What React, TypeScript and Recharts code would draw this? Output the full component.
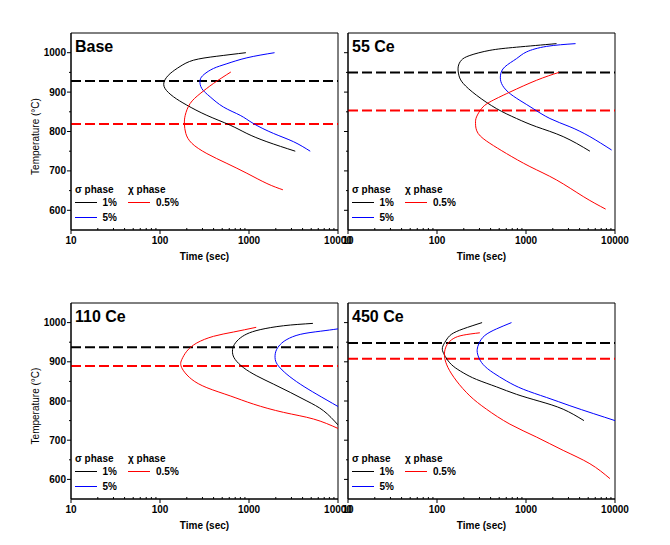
import React from 'react';
import { LineChart, Line, XAxis, YAxis, ReferenceLine, ReferenceArea } from 'recharts';

const FONT = "Arial, 'Liberation Sans', sans-serif";

// ---- axis ticks ----
const xMajorTicks = [10, 100, 1000, 10000];
const xTickLabels = ['10', '100', '1000', '10000'];
const xMinorTicks = [20, 30, 40, 50, 60, 70, 80, 90, 200, 300, 400, 500, 600, 700, 800, 900, 2000, 3000, 4000, 5000, 6000, 7000, 8000, 9000];
const yMajorTicks = [600, 700, 800, 900, 1000];
const yMinorTicks = [650, 750, 850, 950];
const xDomain = [10, 10000];
const yDomain = [550, 1050];

// ---- labels ----
const xAxisTitle = 'Time (sec)';
const yAxisTitle = 'Temperature (°C)';
const sigmaHeader = 'σ phase';
const chiHeader = 'χ phase';
const sigma1Label = '1%';
const sigma5Label = '5%';
const chi05Label = '0.5%';
const panelTitles = ['Base', '55 Ce', '110 Ce', '450 Ce'];

type Pt = { t: number; T: number };

// ---- Base ----
const baseSigma1: Pt[] = [
  { t: 922, T: 1000 }, { t: 435, T: 991 }, { t: 238, T: 981 }, { t: 168, T: 965 }, { t: 130, T: 947 },
  { t: 112, T: 928 }, { t: 114, T: 909 }, { t: 142, T: 888 }, { t: 200, T: 867 }, { t: 336, T: 841 },
  { t: 615, T: 816 }, { t: 946, T: 795 }, { t: 1589, T: 774 }, { t: 3311, T: 750 },
];
const baseSigma5: Pt[] = [
  { t: 1937, T: 1000 }, { t: 946, T: 987 }, { t: 564, T: 972 }, { t: 399, T: 960 }, { t: 313, T: 945 },
  { t: 282, T: 930 }, { t: 295, T: 909 }, { t: 366, T: 888 }, { t: 517, T: 862 }, { t: 797, T: 841 },
  { t: 1125, T: 820 }, { t: 1888, T: 795 }, { t: 3170, T: 774 }, { t: 4875, T: 750 },
];
const baseChi05: Pt[] = [
  { t: 625, T: 951 }, { t: 399, T: 922 }, { t: 282, T: 896 }, { t: 218, T: 871 }, { t: 192, T: 841 },
  { t: 188, T: 819 }, { t: 195, T: 795 }, { t: 228, T: 770 }, { t: 336, T: 744 }, { t: 564, T: 719 },
  { t: 946, T: 694 }, { t: 1589, T: 668 }, { t: 2404, T: 652 },
];
const baseDashes = [928, 819];

// ---- 55 Ce ----
const ce55Sigma1: Pt[] = [
  { t: 2203, T: 1023 }, { t: 783, T: 1014 }, { t: 393, T: 1006 }, { t: 234, T: 993 }, { t: 188, T: 981 },
  { t: 173, T: 964 }, { t: 176, T: 943 }, { t: 197, T: 922 }, { t: 278, T: 892 }, { t: 467, T: 858 },
  { t: 783, T: 833 }, { t: 1314, T: 812 }, { t: 2618, T: 787 }, { t: 5224, T: 750 },
];
const ce55Sigma5: Pt[] = [
  { t: 3606, T: 1023 }, { t: 1702, T: 1016 }, { t: 1014, T: 1002 }, { t: 783, T: 985 }, { t: 578, T: 964 },
  { t: 517, T: 943 }, { t: 531, T: 922 }, { t: 631, T: 900 }, { t: 853, T: 879 }, { t: 1205, T: 858 },
  { t: 1855, T: 833 }, { t: 3114, T: 812 }, { t: 5224, T: 787 }, { t: 9163, T: 753 },
];
const ce55Chi05: Pt[] = [
  { t: 2344, T: 950 }, { t: 1313, T: 930 }, { t: 659, T: 900 }, { t: 393, T: 875 }, { t: 316, T: 858 },
  { t: 278, T: 837 }, { t: 271, T: 820 }, { t: 290, T: 795 }, { t: 393, T: 770 }, { t: 604, T: 744 },
  { t: 1106, T: 711 }, { t: 2203, T: 677 }, { t: 4393, T: 635 }, { t: 7852, T: 603 },
];
const ce55Dashes = [950, 853];

// ---- 110 Ce ----
const ce110Sigma1: Pt[] = [
  { t: 5224, T: 998 }, { t: 2444, T: 992 }, { t: 1336, T: 982 }, { t: 946, T: 971 }, { t: 763, T: 957 },
  { t: 670, T: 940 }, { t: 653, T: 923 }, { t: 699, T: 906 }, { t: 868, T: 885 }, { t: 1225, T: 864 },
  { t: 1888, T: 843 }, { t: 2906, T: 822 }, { t: 4474, T: 800 }, { t: 6887, T: 775 }, { t: 10000, T: 739 },
];
const ce110Sigma5: Pt[] = [
  { t: 10000, T: 984 }, { t: 6325, T: 978 }, { t: 3767, T: 970 }, { t: 2667, T: 957 }, { t: 2244, T: 944 },
  { t: 2005, T: 927 }, { t: 1972, T: 906 }, { t: 2149, T: 889 }, { t: 2667, T: 868 }, { t: 3767, T: 843 },
  { t: 5794, T: 817 }, { t: 10000, T: 786 },
];
const ce110Chi05: Pt[] = [
  { t: 1205, T: 988 }, { t: 670, T: 976 }, { t: 399, T: 965 }, { t: 259, T: 948 }, { t: 200, T: 927 },
  { t: 176, T: 906 }, { t: 171, T: 893 }, { t: 184, T: 877 }, { t: 228, T: 855 }, { t: 336, T: 834 },
  { t: 615, T: 813 }, { t: 1125, T: 792 }, { t: 2444, T: 771 }, { t: 5318, T: 754 }, { t: 10000, T: 730 },
];
const ce110Dashes = [937, 889];

// ---- 450 Ce ----
const ce450Sigma1: Pt[] = [
  { t: 321, T: 1000 }, { t: 197, T: 984 }, { t: 145, T: 970 }, { t: 126, T: 954 }, { t: 115, T: 936 },
  { t: 119, T: 921 }, { t: 130, T: 906 }, { t: 152, T: 889 }, { t: 197, T: 872 }, { t: 278, T: 855 },
  { t: 467, T: 836 }, { t: 783, T: 817 }, { t: 1433, T: 799 }, { t: 2618, T: 779 }, { t: 4478, T: 750 },
];
const ce450Sigma5: Pt[] = [
  { t: 687, T: 1000 }, { t: 467, T: 984 }, { t: 344, T: 967 }, { t: 298, T: 948 }, { t: 283, T: 932 },
  { t: 290, T: 915 }, { t: 330, T: 893 }, { t: 428, T: 872 }, { t: 604, T: 851 }, { t: 931, T: 830 },
  { t: 1702, T: 809 }, { t: 3114, T: 788 }, { t: 5701, T: 768 }, { t: 10000, T: 750 },
];
const ce450Chi05: Pt[] = [
  { t: 303, T: 974 }, { t: 197, T: 968 }, { t: 152, T: 959 }, { t: 130, T: 944 }, { t: 122, T: 927 },
  { t: 122, T: 910 }, { t: 133, T: 885 }, { t: 166, T: 851 }, { t: 234, T: 813 }, { t: 360, T: 779 },
  { t: 659, T: 741 }, { t: 1313, T: 708 }, { t: 2618, T: 674 }, { t: 5224, T: 640 }, { t: 8770, T: 602 },
];
const ce450Dashes = [948, 908];

const COLORS = { sigma1: '#000000', sigma5: '#0000ff', chi: '#ff0000' };

const CHART_W = 362;
const PLOT_LEFT = 71;
const PLOT_RIGHT = 338;
const PLOT_TOP = 33;
const Y_AXIS_W = 40;
const X_AXIS_H = 30;

const XTick = (props: any) => {
  const { x, y, payload } = props;
  const v = payload.value;
  const idx = xMajorTicks.indexOf(v);
  if (idx >= 0) {
    return (
      <g>
        <line x1={x} y1={y} x2={x} y2={y + 4} stroke="#000" strokeWidth={1} />
        <text x={x} y={y + 13.5} textAnchor="middle" fontFamily={FONT} fontSize={10} fontWeight="bold" fill="#000">
          {xTickLabels[idx]}
        </text>
      </g>
    );
  }
  return <line x1={x} y1={y} x2={x} y2={y - 2} stroke="#000" strokeWidth={1} />;
};

const makeYTick = (showLabels: boolean) => (props: any) => {
  const { x, y, payload } = props;
  const v = payload.value;
  if (yMajorTicks.indexOf(v) >= 0) {
    return (
      <g>
        <line x1={x - 4} y1={y} x2={x} y2={y} stroke="#000" strokeWidth={1} />
        {showLabels && (
          <text x={x - 5} y={y + 3.5} textAnchor="end" fontFamily={FONT} fontSize={10} fontWeight="bold" fill="#000">
            {String(v)}
          </text>
        )}
      </g>
    );
  }
  return <line x1={x - 2} y1={y} x2={x} y2={y} stroke="#000" strokeWidth={1} />;
};

type PanelProps = {
  left: number;
  top: number;
  plotH: number;
  title: string;
  sigma1: Pt[];
  sigma5: Pt[];
  chi: Pt[];
  dashes: number[];
  showYLabels: boolean;
};

const Panel = ({ left, top, plotH, title, sigma1, sigma5, chi, dashes, showYLabels }: PanelProps) => {
  const W = CHART_W;
  const H = PLOT_TOP + plotH + 40;
  const plotBottom = PLOT_TOP + plotH;
  const lg = PLOT_LEFT + 4;
  const row1 = Math.round(plotBottom - 28) + 0.5;
  const row2 = Math.round(plotBottom - 13.5) + 0.5;
  return (
    <div style={{ position: 'absolute', left, top, width: W, height: H }}>
      <LineChart
        width={W}
        height={H}
        margin={{ top: PLOT_TOP, right: W - PLOT_RIGHT, left: PLOT_LEFT - Y_AXIS_W, bottom: 40 - X_AXIS_H }}
      >
        <XAxis
          dataKey="t"
          type="number"
          scale="log"
          domain={xDomain}
          allowDataOverflow
          ticks={[...xMajorTicks, ...xMinorTicks]}
          interval={0}
          tick={<XTick />}
          tickLine={false}
          tickSize={0}
          tickMargin={0}
          height={X_AXIS_H}
          axisLine={{ stroke: '#000' }}
        />
        <YAxis
          dataKey="T"
          type="number"
          domain={yDomain}
          allowDataOverflow
          ticks={[...yMajorTicks, ...yMinorTicks]}
          interval={0}
          tick={makeYTick(showYLabels)}
          tickLine={false}
          tickSize={0}
          tickMargin={0}
          width={Y_AXIS_W}
          axisLine={{ stroke: '#000' }}
        />
        <ReferenceArea x1={xDomain[0]} x2={xDomain[1]} y1={yDomain[0]} y2={yDomain[1]} fill="none" fillOpacity={0} stroke="#000" strokeWidth={1} />
        <ReferenceLine y={dashes[0]} stroke="#000" strokeWidth={2} strokeDasharray="10 4" />
        <ReferenceLine y={dashes[1]} stroke="#ff0000" strokeWidth={2} strokeDasharray="10 4" />
        <Line data={sigma1} dataKey="T" type="natural" stroke={COLORS.sigma1} strokeWidth={1} dot={false} activeDot={false} isAnimationActive={false} />
        <Line data={sigma5} dataKey="T" type="natural" stroke={COLORS.sigma5} strokeWidth={1} dot={false} activeDot={false} isAnimationActive={false} />
        <Line data={chi} dataKey="T" type="natural" stroke={COLORS.chi} strokeWidth={1} dot={false} activeDot={false} isAnimationActive={false} />
      </LineChart>
      <svg
        width={W}
        height={H}
        style={{ position: 'absolute', left: 0, top: 0, pointerEvents: 'none', overflow: 'visible' }}
        fontFamily={FONT}
      >
        <text x={lg} y={PLOT_TOP + 19} fontSize={16} fontWeight="bold" fill="#000">{title}</text>
        {/* legend */}
        <text x={lg} y={plotBottom - 37.5} fontSize={10} fontWeight="bold" fill="#000">{sigmaHeader}</text>
        <text x={lg + 53} y={plotBottom - 37.5} fontSize={10} fontWeight="bold" fill="#000">{chiHeader}</text>
        <line x1={lg} x2={lg + 22} y1={row1} y2={row1} stroke={COLORS.sigma1} strokeWidth={1} />
        <text x={lg + 42} y={row1 + 3.5} textAnchor="end" fontSize={10} fontWeight="bold" fill="#000">{sigma1Label}</text>
        <line x1={lg + 53} x2={lg + 75} y1={row1} y2={row1} stroke={COLORS.chi} strokeWidth={1} />
        <text x={lg + 81} y={row1 + 3.5} fontSize={10} fontWeight="bold" fill="#000">{chi05Label}</text>
        <line x1={lg} x2={lg + 22} y1={row2} y2={row2} stroke={COLORS.sigma5} strokeWidth={1} />
        <text x={lg + 42} y={row2 + 3.5} textAnchor="end" fontSize={10} fontWeight="bold" fill="#000">{sigma5Label}</text>
        {/* axis titles */}
        <text x={(PLOT_LEFT + PLOT_RIGHT) / 2} y={plotBottom + 30} textAnchor="middle" fontSize={10} fontWeight="bold" fill="#000">{xAxisTitle}</text>
        {showYLabels && (
          <text
            x={38.5}
            y={PLOT_TOP + plotH / 2 + 5}
            textAnchor="middle"
            fontSize={10}
            fill="#000"
            transform={`rotate(-90 38.5 ${PLOT_TOP + plotH / 2 + 5})`}
          >
            {yAxisTitle}
          </text>
        )}
      </svg>
    </div>
  );
};

export default function App() {
  return (
    <div style={{ position: 'absolute', left: 0, top: 0, width: 670, height: 545, background: '#fff', overflow: 'hidden' }}>
      <Panel left={0} top={0} plotH={197} title={panelTitles[0]} sigma1={baseSigma1} sigma5={baseSigma5} chi={baseChi05} dashes={baseDashes} showYLabels />
      <Panel left={277} top={0} plotH={197} title={panelTitles[1]} sigma1={ce55Sigma1} sigma5={ce55Sigma5} chi={ce55Chi05} dashes={ce55Dashes} showYLabels={false} />
      <Panel left={0} top={270} plotH={196} title={panelTitles[2]} sigma1={ce110Sigma1} sigma5={ce110Sigma5} chi={ce110Chi05} dashes={ce110Dashes} showYLabels />
      <Panel left={277} top={270} plotH={196} title={panelTitles[3]} sigma1={ce450Sigma1} sigma5={ce450Sigma5} chi={ce450Chi05} dashes={ce450Dashes} showYLabels={false} />
    </div>
  );
}
